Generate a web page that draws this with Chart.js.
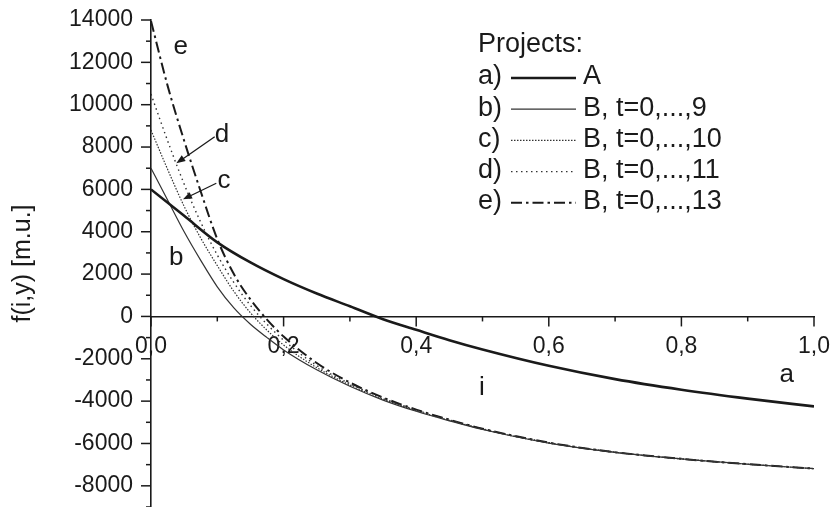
<!DOCTYPE html>
<html>
<head>
<meta charset="utf-8">
<script src="https://cdn.jsdelivr.net/npm/chart.js@4.4.0/dist/chart.umd.min.js"></script>
<style>
  html, body { margin: 0; padding: 0; background: #fff; }
</style>
</head>
<body>
<canvas id="npvChart" width="832" height="507"></canvas>
<script>
// values
const rateA = [0, 0.05, 0.1, 0.15, 0.2, 0.25, 0.3, 0.35, 0.4, 0.45, 0.5, 0.6, 0.7, 0.8, 0.9, 1.0];
const projectA = [6000, 4750, 3500, 2550, 1760, 1080, 480, -130, -630, -1120, -1560, -2330, -2960, -3460, -3880, -4250];

const rateB = [0, 0.025, 0.05, 0.075, 0.1, 0.125, 0.15, 0.175, 0.2, 0.25, 0.3, 0.35, 0.4, 0.45, 0.5, 0.6, 0.7, 0.8, 0.9, 1.0];
const projectB9 = [7000, 5500, 4000, 2650, 1400, 400, -370, -1000, -1580, -2520, -3300, -3950, -4480, -4930, -5340, -5980, -6420, -6730, -6980, -7190];
const projectB10 = [8800, 6950, 5200, 3700, 2400, 1180, 170, -650, -1350, -2420, -3240, -3900, -4450, -4905, -5325, -5970, -6415, -6728, -6978, -7188];
const projectB11 = [10500, 8300, 6250, 4450, 2900, 1600, 520, -370, -1120, -2320, -3180, -3860, -4420, -4885, -5310, -5965, -6412, -6726, -6977, -7187];
const projectB13 = [13950, 10900, 8300, 5900, 3650, 2000, 800, -150, -950, -2200, -3120, -3830, -4400, -4875, -5300, -5960, -6410, -6725, -6976, -7186];

const legendKeys = ["a)", "b)", "c)", "d)", "e)"];
const legendNames = ["A", "B, t=0,...,9", "B, t=0,...,10", "B, t=0,...,11", "B, t=0,...,13"];

// little letters on the plot and the two arrows, in data units
const noteText = ["e", "d", "c", "b", "a", "i"];
const noteAt = [[0.045, 12720], [0.107, 8570], [0.110, 6400], [0.038, 2760], [0.959, -2770], [0.499, -3380]];
const arrowFrom = [[0.0961, 8490], [0.0985, 6290]];
const arrowTo = [[0.0382, 7230], [0.0483, 5530]];

const FONT = "'Liberation Sans', Arial, sans-serif";
const INK = "#1a1a1a";

const toPoints = (xs, ys) => xs.map((x, k) => ({ x: x, y: ys[k] }));

const datasets = [
  { data: toPoints(rateA, projectA), borderColor: INK, borderWidth: 2.6, borderDash: [] },
  { data: toPoints(rateB, projectB9), borderColor: "#333", borderWidth: 1.2, borderDash: [] },
  { data: toPoints(rateB, projectB10), borderColor: "#333", borderWidth: 1.2, borderDash: [1.5, 1.5] },
  { data: toPoints(rateB, projectB11), borderColor: "#333", borderWidth: 1.4, borderDash: [1.5, 3.5] },
  { data: toPoints(rateB, projectB13), borderColor: INK, borderWidth: 2, borderDash: [11, 4, 2.5, 4] },
].map((d) => Object.assign(d, {
  pointRadius: 0,
  fill: false,
  cubicInterpolationMode: "monotone",
}));

// minor/major tick marks (chart.js has no minor ticks)
const tickMarks = {
  id: "tickMarks",
  afterDraw(chart) {
    const { ctx, scales: { x, y } } = chart;
    ctx.save();
    ctx.strokeStyle = INK;
    ctx.lineWidth = 1.5;
    y.ticks.forEach((t) => {
      const py = y.getPixelForValue(t.value);
      const len = t.value % 2000 === 0 ? 10 : 5;
      ctx.beginPath();
      ctx.moveTo(y.right - len, py);
      ctx.lineTo(y.right, py);
      ctx.stroke();
    });
    const y0 = y.getPixelForValue(0);
    x.ticks.forEach((t) => {
      const px = x.getPixelForValue(t.value);
      const len = Math.round(t.value * 10) % 2 === 0 ? 10 : 5;
      ctx.beginPath();
      ctx.moveTo(px, y0);
      ctx.lineTo(px, y0 + len);
      ctx.stroke();
    });
    ctx.restore();
  },
};

// legend "a) ——— A" style plus notes and arrows
const notes = {
  id: "notes",
  afterDraw(chart) {
    const { ctx, scales: { x, y } } = chart;
    ctx.save();
    ctx.fillStyle = INK;
    ctx.font = "27px " + FONT;
    ctx.textBaseline = "middle";
    ctx.textAlign = "left";
    ctx.fillText("Projects:", 478, 45);
    legendKeys.forEach((key, k) => {
      const ly = 77 + k * 31.2;
      const ds = chart.data.datasets[k];
      ctx.fillStyle = INK;
      ctx.fillText(key, 478, ly);
      ctx.fillText(legendNames[k], 583, ly);
      ctx.beginPath();
      ctx.setLineDash(ds.borderDash);
      ctx.strokeStyle = ds.borderColor;
      ctx.lineWidth = ds.borderWidth;
      ctx.moveTo(511, ly + 1);
      ctx.lineTo(576, ly + 1);
      ctx.stroke();
      ctx.setLineDash([]);
    });

    ctx.font = "26px " + FONT;
    ctx.textAlign = "center";
    noteText.forEach((s, k) => {
      ctx.fillText(s, x.getPixelForValue(noteAt[k][0]), y.getPixelForValue(noteAt[k][1]));
    });

    ctx.strokeStyle = INK;
    ctx.lineWidth = 1.3;
    arrowFrom.forEach((p, k) => {
      const x1 = x.getPixelForValue(p[0]), y1 = y.getPixelForValue(p[1]);
      const x2 = x.getPixelForValue(arrowTo[k][0]), y2 = y.getPixelForValue(arrowTo[k][1]);
      const a = Math.atan2(y2 - y1, x2 - x1);
      ctx.beginPath();
      ctx.moveTo(x1, y1);
      ctx.lineTo(x2 - 6 * Math.cos(a), y2 - 6 * Math.sin(a));
      ctx.stroke();
      ctx.beginPath();
      ctx.moveTo(x2, y2);
      ctx.lineTo(x2 - 9 * Math.cos(a) + 3.5 * Math.sin(a), y2 - 9 * Math.sin(a) - 3.5 * Math.cos(a));
      ctx.lineTo(x2 - 9 * Math.cos(a) - 3.5 * Math.sin(a), y2 - 9 * Math.sin(a) + 3.5 * Math.cos(a));
      ctx.closePath();
      ctx.fill();
    });
    ctx.restore();
  },
};

new Chart(document.getElementById("npvChart"), {
  type: "line",
  data: { datasets: datasets },
  plugins: [tickMarks, notes],
  options: {
    responsive: false,
    animation: false,
    devicePixelRatio: 1,
    layout: { padding: { top: 20, right: 18, bottom: 0, left: 0 } },
    plugins: { legend: { display: false }, tooltip: { enabled: false } },
    scales: {
      x: {
        type: "linear",
        position: { y: 0 },
        min: 0,
        max: 1,
        afterFit: (s) => { s.height = 0; s.paddingLeft = 0; s.paddingRight = 0; },
        border: { color: INK, width: 1.6 },
        grid: { drawOnChartArea: false, drawTicks: false },
        ticks: {
          stepSize: 0.1,
          autoSkip: false,
          maxRotation: 0,
          padding: 16,
          color: INK,
          font: { family: FONT, size: 23 },
          callback: (v) => (Math.round(v * 10) % 2 === 0 ? v.toFixed(1).replace(".", ",") : ""),
        },
      },
      y: {
        type: "linear",
        min: -9000,
        max: 14000,
        afterFit: (s) => { s.width = 151; s.paddingTop = 0; s.paddingBottom = 0; },
        border: { color: INK, width: 1.6 },
        grid: { drawOnChartArea: false, drawTicks: false },
        title: {
          display: true,
          text: "f(i,y) [m.u.]",
          color: INK,
          font: { family: FONT, size: 25 },
          padding: { top: 8, bottom: 0 },
        },
        ticks: {
          stepSize: 1000,
          autoSkip: false,
          padding: 18,
          color: INK,
          font: { family: FONT, size: 23 },
          callback: (v) => (v % 2000 === 0 && v >= -8000 ? String(v) : ""),
        },
      },
    },
  },
});
</script>
</body>
</html>
